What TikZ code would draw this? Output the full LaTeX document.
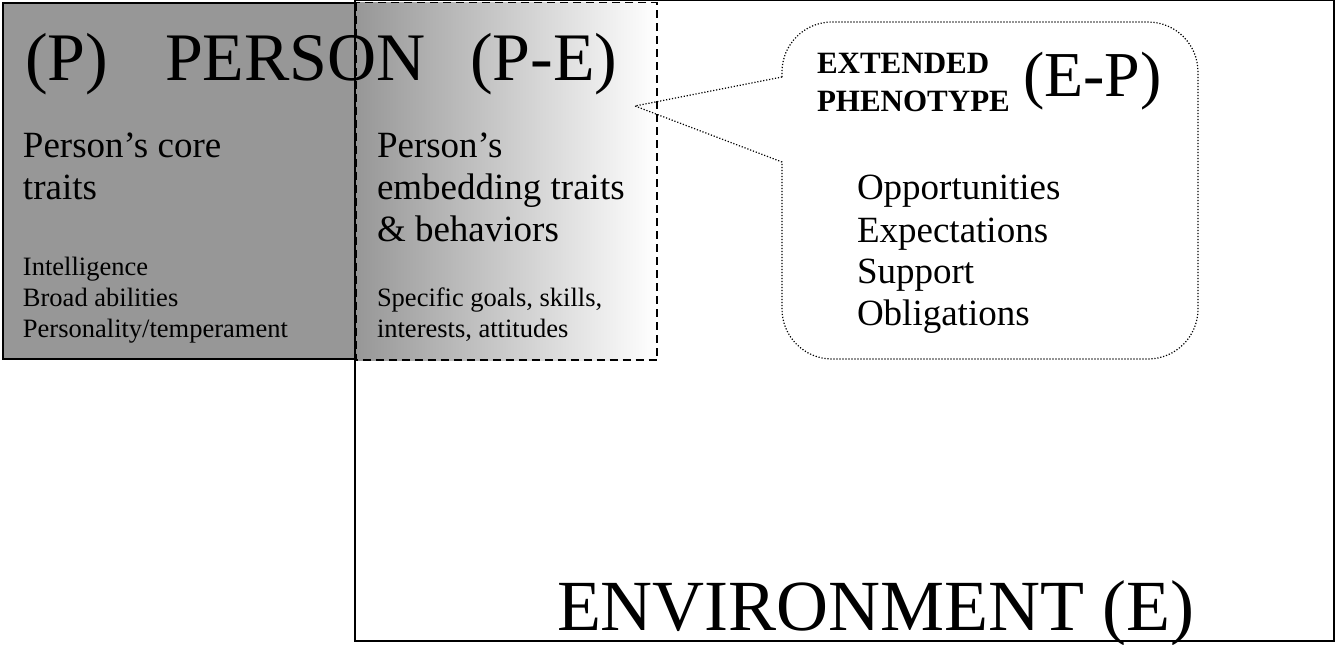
\documentclass[tikz,border=0pt]{standalone}
\usepackage{fontspec}
\setmainfont{Liberation Serif}
\definecolor{pgray}{RGB}{151,151,151}
\tikzset{
  txt/.style={anchor=base west, inner sep=0pt, outer sep=0pt},
  big/.style={txt, font=\fontsize{68}{80}\selectfont},
  mid/.style={txt, font=\fontsize{37}{42}\selectfont},
  sml/.style={txt, font=\fontsize{26.5}{30}\selectfont},
  capsb/.style={txt, font=\fontsize{31}{36}\selectfont\bfseries},
  epx/.style={txt, font=\fontsize{64}{70}\selectfont},
  envx/.style={txt, font=\fontsize{72}{80}\selectfont},
  solidbox/.style={draw=black, line width=2pt},
  dashbox/.style={draw=black, line width=1.6pt, dash pattern=on 8pt off 5pt},
  dotline/.style={draw=black, line width=1.2pt, dash pattern=on 1.2pt off 1.8pt},
}
\begin{document}
\begin{tikzpicture}[x=1pt,y=-1pt]
\useasboundingbox (0,0) rectangle (1339,645);
\fill[white] (0,0) rectangle (1339,645);
\coordinate (e1) at (355,-0.5);
\coordinate (e2) at (1334,641);
% person box
\fill[pgray] (3,2.5) rectangle (356,359);
\draw[solidbox] (356,2.5) -- (3,2.5) -- (3,359) -- (356,359);
% P-E gradient box
\shade[left color=pgray, right color=white] (356,2.5) rectangle (657,360);
\draw[dashbox] (356,2.5) rectangle (657,360);
% environment outline
\draw[solidbox] (e1) rectangle (e2);
% callout
\coordinate (tip) at (635,106);
\coordinate (ju) at (782,77);
\coordinate (jl) at (782,162);
\draw[dotline] (ju) -- (tip) -- (jl) -- (782,309)
  .. controls (782,336.6) and (804.4,359) .. (832,359) -- (1148,359)
  .. controls (1175.6,359) and (1198,336.6) .. (1198,309) -- (1198,72)
  .. controls (1198,44.4) and (1175.6,22) .. (1148,22) -- (832,22)
  .. controls (804.4,22) and (782,44.4) .. (782,72) -- cycle;
% title
\node[big] (tP) at (25,80) {(P)};
\node[big] (tPerson) at (165,80) {PERSON};
\node[big] (tPE) at (470,80) {(P-E)};
% core traits
\node[mid] (c1) at (23,157) {Person’s core};
\node[mid] (c2) at (23,199) {traits};
\node[sml] (s1) at (23,275) {Intelligence};
\node[sml] (s2) at (23,306) {Broad abilities};
\node[sml] (s3) at (23,337) {Personality/temperament};
% embedding traits
\node[mid] (m1) at (377,157) {Person’s};
\node[mid] (m2) at (377,199) {embedding traits};
\node[mid] (m3) at (377,241) {\& behaviors};
\node[sml] (r1) at (377,306) {Specific goals, skills,};
\node[sml] (r2) at (377,337) {interests, attitudes};
% extended phenotype
\node[capsb] (x1) at (817,73) {EXTENDED};
\node[capsb] (x2) at (817,111) {PHENOTYPE};
\node[epx] (xEP) at (1023,96) {(E-P)};
\node[mid] (o1) at (857,199) {Opportunities};
\node[mid] (o2) at (857,242) {Expectations};
\node[mid] (o3) at (857,283) {Support};
\node[mid] (o4) at (857,325) {Obligations};
% environment label
\node[envx] (env) at (557,630) {ENVIRONMENT (E)};
\end{tikzpicture}
\end{document}
